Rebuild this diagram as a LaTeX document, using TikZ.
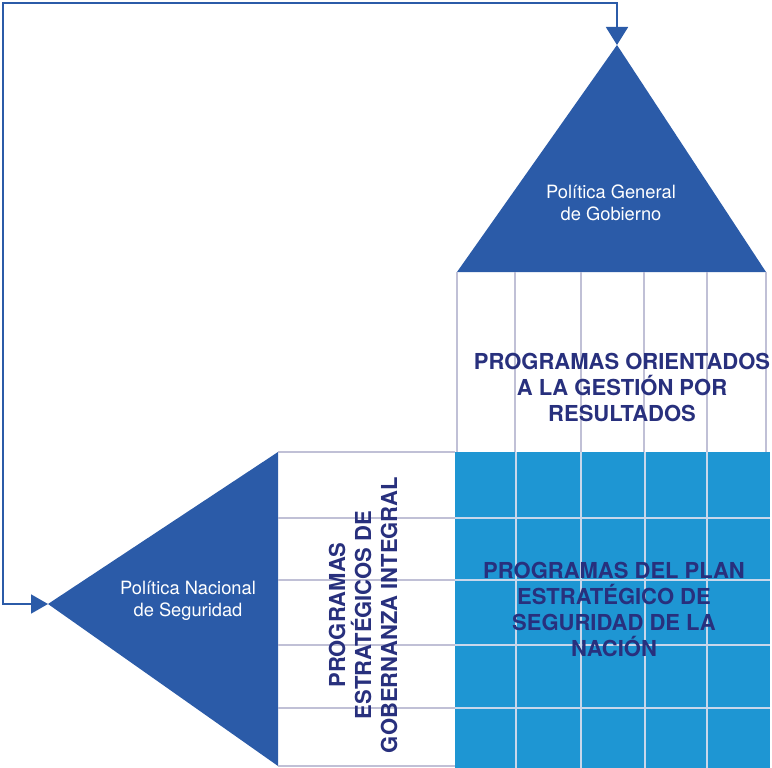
\documentclass[tikz,border=0pt]{standalone}
\usepackage{fontspec}
\setmainfont{TeX Gyre Heros}
\usepackage{tikz}
\usetikzlibrary{positioning}
\usetikzlibrary{arrows.meta}
\definecolor{dblue}{RGB}{43, 91, 168}
\definecolor{lblue}{RGB}{30, 150, 211}
\definecolor{navy}{RGB}{40, 48, 125}
\definecolor{gline}{RGB}{192, 192, 214}
\definecolor{wline}{RGB}{200, 215, 235}
\tikzset{
  white label/.style={text=white, align=center, font=\fontsize{18.3}{22}\selectfont},
  prog label/.style={text=navy, align=center, font=\bfseries\fontsize{22}{26}\selectfont},
  grid line/.style={line width=2pt, color=gline},
  inner line/.style={line width=1.5pt, color=wline},
  loop arrow/.style={line width=1.8pt, color=dblue, {Triangle[length=18pt,width=22pt]}-{Triangle[length=17pt,width=19pt]}}
}
\begin{document}
\begin{tikzpicture}[x=1pt, y=1pt]
\useasboundingbox (0,0) rectangle (772,-768);
% triangles
\coordinate (gobtip) at (617,-45);
\coordinate (nactip) at (48,-604);
\fill [dblue] (gobtip) -- (766,-272) -- (457,-272) -- cycle;
\fill [dblue] (nactip) -- (278,-452) -- (278,-766) -- cycle;
\node (gob) [white label] at (611,-203) {Política General\\de Gobierno};
\node (nac) [white label] at (188,-601) {Política Nacional\\de Seguridad};
% blue block
\fill [lblue] (455,-452) rectangle (770,-768);
\foreach \x in {516,581,645,707}
  \draw [inner line] (\x,-452) -- (\x,-768);
\foreach \y in {518,580,645,708}
  \draw [inner line] (455,-\y) -- (770,-\y);
% top columns
\foreach \x in {457,515,581,644,707,766}
  \draw [grid line] (\x,-272) -- (\x,-452);
% left rows
\foreach \y in {452,518,580,645,708,766}
  \draw [grid line] (278,-\y) -- (455,-\y);
\node (res) [prog label] at (622,-387) {PROGRAMAS ORIENTADOS\\A LA GESTIÓN POR\\RESULTADOS};
\node (pesn) [prog label] at (614,-609) {PROGRAMAS DEL PLAN\\ESTRATÉGICO DE\\SEGURIDAD DE LA\\NACIÓN};
\node (gbi) [prog label, rotate=90] at (363,-615) {PROGRAMAS\\ESTRATÉGICOS DE\\GOBERNANZA INTEGRAL};
% loop
\draw [loop arrow] (gobtip) |- (3,-3) |- (nactip);
\end{tikzpicture}
\end{document}
